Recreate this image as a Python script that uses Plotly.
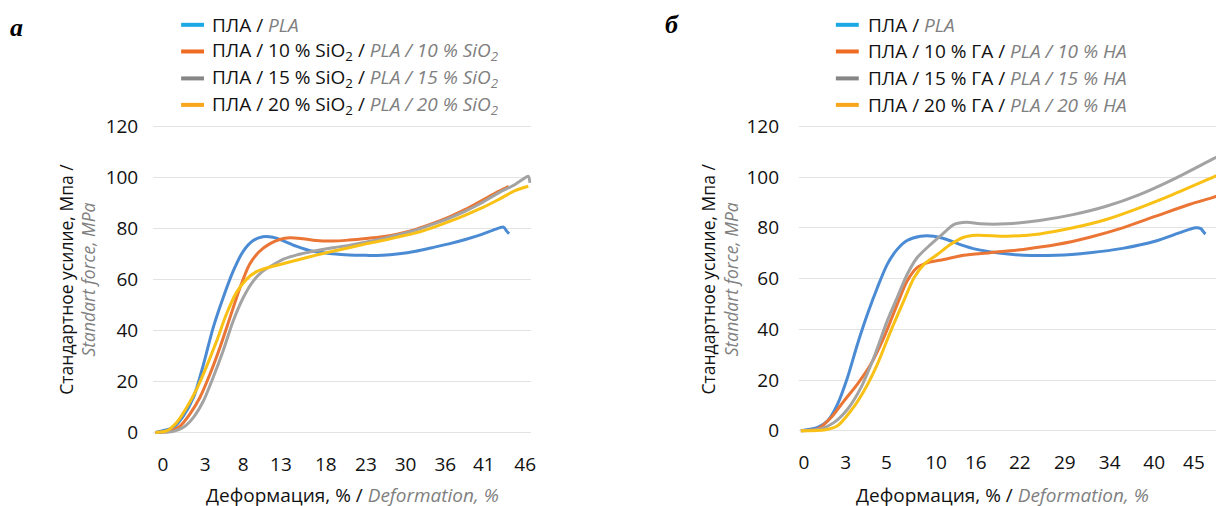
import plotly.graph_objects as go

W, H = 1221, 516   # page-space size of the figure

# ---------------- data ----------------
tick_labels_a = ["0", "3", "8", "13", "18", "23", "30", "36", "41", "46"]
tick_labels_b = ["0", "3", "5", "10", "16", "22", "29", "34", "40", "45"]
tick_pos_a = [0.02, 1.07, 2.02, 2.96, 4.08, 5.08, 6.07, 7.06, 8.02, 9.05]
tick_pos_b = [0.02, 0.99, 1.93, 3.08, 4.0, 5.02, 6.06, 7.1, 8.13, 9.05]
y_ticks = [0, 20, 40, 60, 80, 100, 120]

series_names_a = [
    "ПЛА / <span style='color:#808080'><i>PLA</i></span>",
    "ПЛА / 10 % SiO<sub>2</sub> / <span style='color:#808080'><i>PLA / 10 % SiO<sub>2</sub></i></span>",
    "ПЛА / 15 % SiO<sub>2</sub> / <span style='color:#808080'><i>PLA / 15 % SiO<sub>2</sub></i></span>",
    "ПЛА / 20 % SiO<sub>2</sub> / <span style='color:#808080'><i>PLA / 20 % SiO<sub>2</sub></i></span>",
]
series_names_b = [
    "ПЛА / <span style='color:#808080'><i>PLA</i></span>",
    "ПЛА / 10 % ГА / <span style='color:#808080'><i>PLA / 10 % HA</i></span>",
    "ПЛА / 15 % ГА / <span style='color:#808080'><i>PLA / 15 % HA</i></span>",
    "ПЛА / 20 % ГА / <span style='color:#808080'><i>PLA / 20 % HA</i></span>",
]

# panel a (x in category-label units)
a_pla_x = [-0.17, 0.28, 0.53, 0.78, 1.03, 1.27, 1.52, 1.77, 2.02, 2.27, 2.51, 2.76, 3.01, 3.34, 3.76,
           4.25, 4.66, 5.08, 5.49, 5.91, 6.32, 6.73, 7.15, 7.56, 7.97, 8.30, 8.51, 8.59, 8.65]
a_pla_y = [0, 2, 6.5, 13.7, 26.7, 41, 52.8, 63.2, 71, 75.2, 76.7, 76.5, 75.2, 73, 71,
           70, 69.5, 69.4, 69.4, 70, 71, 72.4, 73.9, 75.6, 77.6, 79.6, 80.5, 78.9, 77.9]

a_10_x = [-0.17, 0.2, 0.45, 0.69, 0.94, 1.19, 1.44, 1.69, 1.94, 2.18, 2.43, 2.68, 2.93, 3.18, 3.51,
          3.84, 4.25, 4.66, 5.08, 5.49, 5.91, 6.32, 6.73, 7.15, 7.56, 7.97, 8.39, 8.64]
a_10_y = [0, 0.4, 2.6, 7.2, 13.7, 22.8, 33.3, 45, 56.7, 65.9, 71, 73.9, 75.6, 76.3, 75.9,
          75.2, 75, 75.4, 76, 76.7, 77.9, 79.6, 81.8, 84.4, 87.4, 90.9, 94.5, 96.5]

a_15_x = [-0.17, 0.28, 0.53, 0.78, 1.03, 1.27, 1.52, 1.77, 2.02, 2.27, 2.51, 2.76, 3.01, 3.34, 3.76,
          4.25, 4.66, 5.08, 5.49, 5.91, 6.32, 6.73, 7.15, 7.56, 7.97, 8.39, 8.8, 9.05, 9.13, 9.17]
a_15_y = [0, 0.4, 2, 5.9, 12.4, 21.5, 32, 43.7, 52.8, 59.3, 63.2, 65.6, 67.8, 69.5, 71,
          72.4, 73.3, 74.6, 75.9, 77.6, 79.3, 81.5, 83.9, 86.7, 90, 93.9, 97.2, 99.8, 100.4, 97.8]

a_20_x = [-0.17, 0.12, 0.36, 0.61, 0.86, 1.11, 1.36, 1.6, 1.85, 2.1, 2.35, 2.68, 3.01, 3.42, 3.84,
          4.25, 4.66, 5.08, 5.49, 5.91, 6.32, 6.73, 7.15, 7.56, 7.97, 8.39, 8.8, 9.13]
a_20_y = [0, 0.7, 3.9, 9.8, 17, 26, 35.9, 46.3, 54.8, 60, 63, 64.8, 66.1, 67.8, 69.5,
          71, 72.4, 73.9, 75.2, 76.7, 78.2, 80.2, 82.6, 85.2, 88, 91.3, 94.8, 96.5]

# panel b
b_pla_x = [-0.05, 0.34, 0.57, 0.8, 1.03, 1.26, 1.49, 1.72, 1.95, 2.18, 2.41, 2.72, 3.03, 3.33, 3.64,
           4.02, 4.49, 5.1, 5.87, 6.64, 7.4, 8.17, 8.71, 9.09, 9.21, 9.29, 9.32]
b_pla_y = [0, 1.3, 3.9, 10.5, 21, 34.1, 45.9, 56.4, 65.6, 71.5, 75, 76.7, 76.7, 75.4, 73.4,
           71.5, 70.2, 69.2, 69.2, 70.2, 71.9, 74.8, 78, 80, 79.7, 78, 77.6]

b_10_x = [-0.05, 0.34, 0.65, 0.95, 1.26, 1.57, 1.87, 2.18, 2.41, 2.64, 2.87, 3.26, 3.72, 4.33, 5.1,
          5.87, 6.64, 7.4, 8.17, 8.94, 9.46, 9.7]
b_10_y = [0, 0.7, 5.2, 11.8, 18.4, 26.2, 36.7, 49.8, 59, 64.3, 66.2, 67.5, 69.2, 70.2, 71.5,
          73.4, 76.3, 80, 84.6, 89.2, 91.8, 93.2]

b_15_x = [-0.05, 0.41, 0.72, 1.03, 1.34, 1.64, 1.95, 2.18, 2.41, 2.64, 2.95, 3.26, 3.49, 3.79, 4.1,
          4.72, 5.48, 6.25, 7.02, 7.79, 8.56, 9.46, 9.7]
b_15_y = [0, 0.7, 3.3, 8.5, 17, 28.9, 43.3, 52.5, 61.6, 68.2, 73.4, 78, 81.3, 82.2, 81.6,
          81.6, 82.9, 85.2, 88.5, 93.1, 99, 106.9, 109]

b_20_x = [-0.05, 0.49, 0.8, 1.11, 1.41, 1.72, 2.03, 2.33, 2.57, 2.8, 3.11, 3.41, 3.72, 4.02, 4.72,
          5.48, 6.25, 7.02, 7.79, 8.56, 9.46, 9.7]
b_20_y = [0, 0.3, 2, 7.9, 15.7, 26.2, 39.3, 51.1, 60.3, 65.6, 69.5, 73.4, 76.3, 77.1, 76.7,
          77.6, 80, 83.3, 87.9, 93.1, 99.7, 101.5]

line_colors = ["#4a8bd4", "#eb7534", "#a3a3a3", "#f9c015"]
legend_colors = ["#1ca7e5", "#ee6b22", "#868686", "#faa61a"]

FONT = "Open Sans"
FS = 19

fig = go.Figure()

panel_a = [(a_pla_x, a_pla_y), (a_10_x, a_10_y), (a_15_x, a_15_y), (a_20_x, a_20_y)]
panel_b = [(b_pla_x, b_pla_y), (b_10_x, b_10_y), (b_15_x, b_15_y), (b_20_x, b_20_y)]

for i, (xs, ys) in enumerate(panel_a):
    fig.add_trace(go.Scatter(x=xs, y=ys, mode="lines", name=series_names_a[i],
                             line=dict(color=line_colors[i], width=3, shape="spline", smoothing=0.8),
                             xaxis="x", yaxis="y", showlegend=False))
for i, (xs, ys) in enumerate(panel_b):
    fig.add_trace(go.Scatter(x=xs, y=ys, mode="lines", name=series_names_b[i],
                             line=dict(color=line_colors[i], width=3, shape="spline", smoothing=0.8),
                             xaxis="x2", yaxis="y2", showlegend=False))


def px_x(p):
    return p / W


def px_y(p):
    # target picture row -> paper fraction (compensates the capture's vertical mapping)
    page = (p - 9.45) / 0.967
    return 1 - page / H


axis_common = dict(showline=False, zeroline=False, ticks="",
                   tickfont=dict(family=FONT, size=FS, color="#111111"))

fig.update_layout(
    width=W, height=H,
    margin=dict(l=0, r=0, t=0, b=0),
    paper_bgcolor="white", plot_bgcolor="white",
    font=dict(family=FONT, size=FS, color="#111111"),
    xaxis=dict(domain=[px_x(153), px_x(533)], range=[-0.223, 9.206], anchor="y",
               tickmode="array", tickvals=tick_pos_a, ticktext=tick_labels_a,
               showgrid=False, ticklabelstandoff=13, **axis_common),
    yaxis=dict(domain=[px_y(436.8), px_y(122.4)], range=[-2, 121], anchor="x",
               tickmode="array", tickvals=y_ticks,
               showgrid=True, gridcolor="#e3e3e3", gridwidth=1, ticklabelstandoff=14, **axis_common),
    xaxis2=dict(domain=[px_x(802), 1.0], range=[-0.092, 9.562], anchor="y2",
                tickmode="array", tickvals=tick_pos_b, ticktext=tick_labels_b,
                showgrid=False, ticklabelstandoff=13, **axis_common),
    yaxis2=dict(domain=[px_y(435.1), px_y(122.5)], range=[-2, 121], anchor="x2",
                tickmode="array", tickvals=y_ticks,
                showgrid=True, gridcolor="#e3e3e3", gridwidth=1, ticklabelstandoff=19, **axis_common),
)

annotations = []
shapes = []

# panel letters
annotations.append(dict(x=px_x(16), y=px_y(26), xref="paper", yref="paper", text="<b><i>а</i></b>",
                        showarrow=False, xanchor="center", yanchor="middle",
                        font=dict(family="Liberation Serif", size=26, color="#000000")))
annotations.append(dict(x=px_x(674), y=px_y(23), xref="paper", yref="paper", text="<b><i>б</i></b>",
                        showarrow=False, xanchor="center", yanchor="middle",
                        font=dict(family="Liberation Serif", size=26, color="#000000")))

# legends
row_y = [23.3, 50, 77, 103.5]
for names, lx0, lx1, tx in [(series_names_a, 181, 204, 210), (series_names_b, 839, 862, 869)]:
    for i, nm in enumerate(names):
        shapes.append(dict(type="line", xref="paper", yref="paper",
                           x0=px_x(lx0), x1=px_x(lx1), y0=px_y(row_y[i]), y1=px_y(row_y[i]),
                           line=dict(color=legend_colors[i], width=4)))
        annotations.append(dict(x=px_x(tx), y=px_y(row_y[i]), xref="paper", yref="paper", text=nm,
                                showarrow=False, xanchor="left", yanchor="middle",
                                font=dict(family=FONT, size=FS, color="#111111")))

# y titles
ytitle = "Стандартное усилие, Мпа /<br><span style='color:#808080'><i>Standart force, MPa</i></span>"
annotations.append(dict(x=px_x(76), y=px_y(278), xref="paper", yref="paper", text=ytitle,
                        showarrow=False, textangle=-90, xanchor="center", yanchor="middle",
                        font=dict(family=FONT, size=17.5, color="#111111")))
annotations.append(dict(x=px_x(722), y=px_y(278), xref="paper", yref="paper", text=ytitle,
                        showarrow=False, textangle=-90, xanchor="center", yanchor="middle",
                        font=dict(family=FONT, size=17.5, color="#111111")))

# x titles
xtitle = "Деформация, % / <span style='color:#808080'><i>Deformation, %</i></span>"
annotations.append(dict(x=px_x(353), y=px_y(494), xref="paper", yref="paper", text=xtitle,
                        showarrow=False, xanchor="center", yanchor="middle",
                        font=dict(family=FONT, size=FS, color="#111111")))
annotations.append(dict(x=px_x(1006), y=px_y(494), xref="paper", yref="paper", text=xtitle,
                        showarrow=False, xanchor="center", yanchor="middle",
                        font=dict(family=FONT, size=FS, color="#111111")))

fig.update_layout(annotations=annotations, shapes=shapes)

page_fix = (
    "var s=document.createElement('style');"
    "s.textContent='html,body{margin:0!important;padding:0!important;overflow:hidden!important;}';"
    "document.head.appendChild(s);"
    "var gd=document.querySelector('.plotly-graph-div');"
    "if(gd){gd.style.position='fixed';gd.style.top='0px';gd.style.left='0px';}"
)

fig.write_html("out.html", post_script=page_fix, config={"displayModeBar": False})
